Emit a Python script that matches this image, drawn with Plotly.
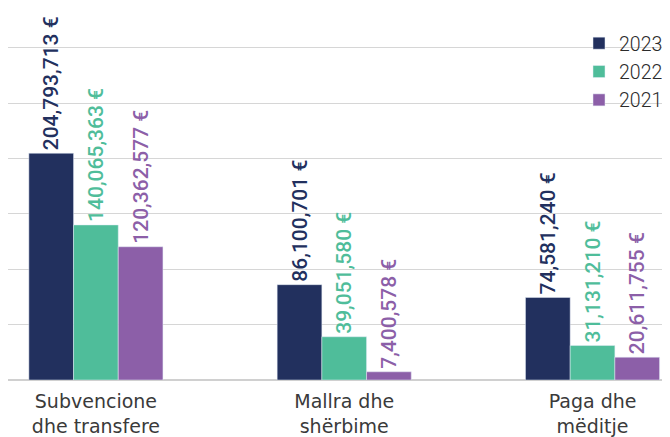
import plotly.graph_objects as go

categories = ["Subvencione<br>dhe transfere", "Mallra dhe<br>shërbime", "Paga dhe<br>mëditje"]
years = ["2023", "2022", "2021"]
values_2023 = [204793713, 86100701, 74581240]
values_2022 = [140065363, 39051580, 31131210]
values_2021 = [120362577, 7400578, 20611755]
colors = ["#22305e", "#4fbd9a", "#8c5fa8"]

series = [values_2023, values_2022, values_2021]

fig = go.Figure()
for name, vals, col in zip(years, series, colors):
    fig.add_trace(go.Bar(
        x=categories, y=vals, name=name, marker_color=col,
        text=[f"{v:,} €" for v in vals], textposition="outside",
        textangle=-90, constraintext="none", cliponaxis=False,
        textfont=dict(family="Roboto", size=21, color=col, weight=500),
    ))

fig.update_layout(
    width=670, height=437,
    margin=dict(l=0, r=8, t=0, b=65, autoexpand=False),
    plot_bgcolor="white", paper_bgcolor="white",
    barmode="group", bargap=0.46, bargroupgap=0,
    font=dict(family="Roboto", color="#333333"),
    showlegend=True,
    legend=dict(x=571 / 662, xanchor="left", y=1 - 16 / 372, yanchor="top",
                font=dict(family="Roboto", size=19.5, color="#2b2b2b", weight=300),
                bgcolor="rgba(0,0,0,0)", itemwidth=30),
    xaxis=dict(range=[-0.354, 2.312],
               tickfont=dict(family="DejaVu Sans", size=19, color="#3a3a3a"),
               showline=False, ticks="", ticklabelstandoff=8),
    yaxis=dict(range=[0, 336e6], dtick=50e6, showticklabels=False,
               gridcolor="#d6d6d6", gridwidth=1, zeroline=True,
               zerolinecolor="#d0d0d0", zerolinewidth=2),
)

fig.write_html("out.html")
